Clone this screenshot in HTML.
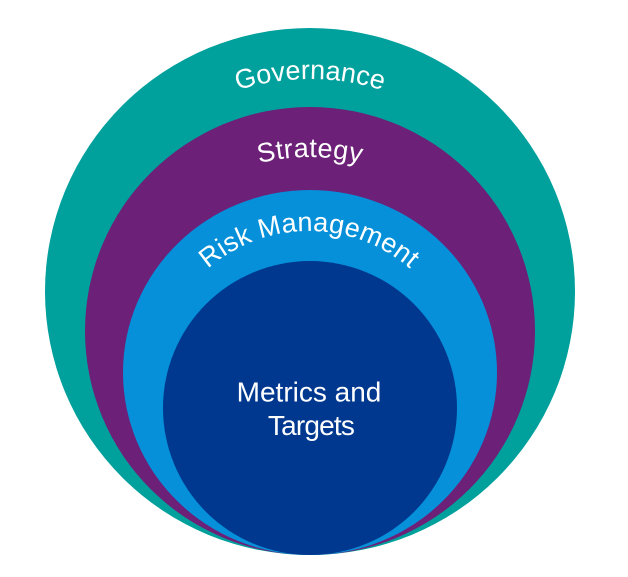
<!DOCTYPE html>
<html>
<head>
<meta charset="utf-8">
<style>
  html, body { margin: 0; padding: 0; background: #ffffff; }
  body { width: 628px; height: 577px; overflow: hidden; }
  svg { display: block; }
  text { font-family: "Liberation Sans", Arial, sans-serif; fill: #ffffff; }
</style>
</head>
<body>
<svg width="628" height="577" viewBox="0 0 628 577" xmlns="http://www.w3.org/2000/svg">
  <defs>
    <path id="arcGov" d="M 70 319 A 240 240 0 0 1 550 319"/>
    <path id="arcStr" d="M 99 368 A 211 211 0 0 1 521 368"/>
    <path id="arcRisk" d="M 155 385 A 154 154 0 0 1 463 385"/>
  </defs>

  <rect width="628" height="577" fill="#ffffff"/>

  <ellipse cx="310" cy="291.5" rx="265" ry="263.5" fill="#00a09c"/>
  <ellipse cx="310" cy="331" rx="225" ry="224" fill="#6c2077"/>
  <ellipse cx="310" cy="372.5" rx="187" ry="182.5" fill="#0590d9"/>
  <ellipse cx="310" cy="408" rx="147" ry="147" fill="#00388f"/>

  <text font-size="27" letter-spacing="0">
    <textPath href="#arcGov" startOffset="50%" text-anchor="middle">Governance</textPath>
  </text>
  <text font-size="27" letter-spacing="0.3">
    <textPath href="#arcStr" startOffset="50%" text-anchor="middle">Strategy</textPath>
  </text>
  <text font-size="27" letter-spacing="0.2">
    <textPath href="#arcRisk" startOffset="50%" text-anchor="middle">Risk Management</textPath>
  </text>

  <text x="309" y="401.5" font-size="28" text-anchor="middle">Metrics and</text>
  <text x="311" y="435" font-size="28" text-anchor="middle" letter-spacing="-0.8">Targets</text>
</svg>
</body>
</html>
